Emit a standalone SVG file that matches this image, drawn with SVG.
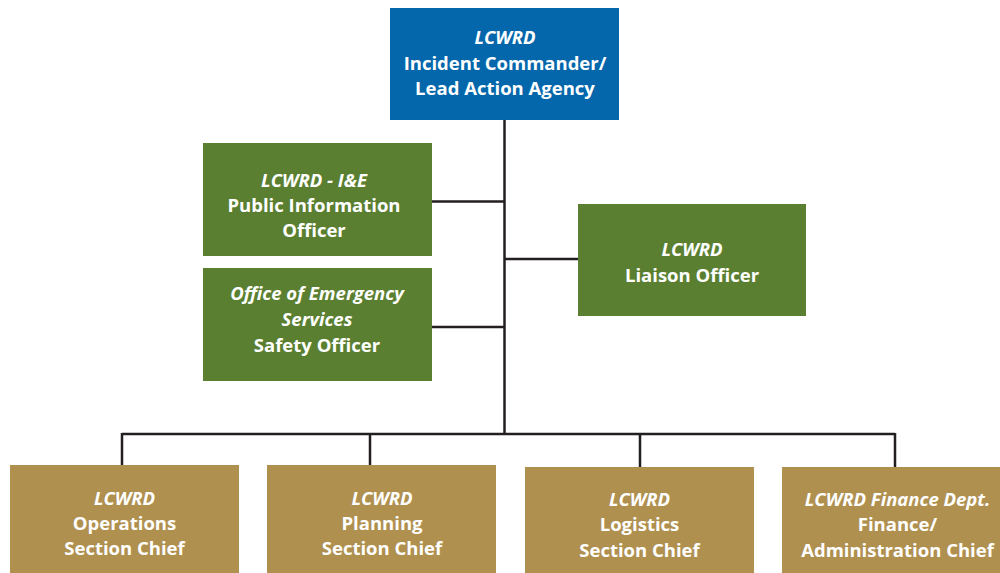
<svg xmlns="http://www.w3.org/2000/svg" width="1000" height="573" viewBox="0 0 1000 573">
<style>
text{font-family:"Open Sans","Lato",sans-serif;font-weight:bold;font-size:18.5px;fill:#fff;text-anchor:middle}
.i{font-style:italic}
.blue{fill:#0567ab}
.green{fill:#5b7f31}
.gold{fill:#b0904f}
.ln{stroke:#231f20;stroke-width:2.5;fill:none}
</style>
<rect width="1000" height="573" fill="#fff"/>
<g id="connectors">
<path class="ln" d="M504.5 120V434M432 201.5H504.5M432 327H504.5M504.5 259H578M122 434H895M122 433V465M370 433V465M640 433V467M895 433V467"/>
</g>
<g id="ic">
<rect class="blue" x="390" y="8" width="229" height="112"/>
<text x="505" y="44" class="i">LCWRD</text>
<text x="505" y="70">Incident Commander/</text>
<text x="505" y="95">Lead Action Agency</text>
</g>
<g id="pio">
<rect class="green" x="203" y="143" width="229" height="113"/>
<text x="314" y="187" class="i">LCWRD - I&amp;E</text>
<text x="314" y="212">Public Information</text>
<text x="314" y="237">Officer</text>
</g>
<g id="safety">
<rect class="green" x="203" y="268" width="229" height="113"/>
<text x="317" y="300" class="i">Office of Emergency</text>
<text x="317" y="326" class="i">Services</text>
<text x="317" y="352">Safety Officer</text>
</g>
<g id="liaison">
<rect class="green" x="578" y="204" width="228" height="112"/>
<text x="692" y="256" class="i">LCWRD</text>
<text x="692" y="282">Liaison Officer</text>
</g>
<g id="ops">
<rect class="gold" x="10" y="465" width="229" height="108"/>
<text x="124.5" y="505" class="i">LCWRD</text>
<text x="124.5" y="530">Operations</text>
<text x="124.5" y="555">Section Chief</text>
</g>
<g id="planning">
<rect class="gold" x="267" y="465" width="229" height="108"/>
<text x="382" y="505" class="i">LCWRD</text>
<text x="382" y="530">Planning</text>
<text x="382" y="555">Section Chief</text>
</g>
<g id="logistics">
<rect class="gold" x="525" y="467" width="229" height="106"/>
<text x="639.5" y="506" class="i">LCWRD</text>
<text x="639.5" y="531">Logistics</text>
<text x="639.5" y="557">Section Chief</text>
</g>
<g id="finance">
<rect class="gold" x="782" y="467" width="218" height="106"/>
<text x="897.5" y="506" class="i">LCWRD Finance Dept.</text>
<text x="897.5" y="531">Finance/</text>
<text x="897.5" y="557">Administration Chief</text>
</g>
</svg>
